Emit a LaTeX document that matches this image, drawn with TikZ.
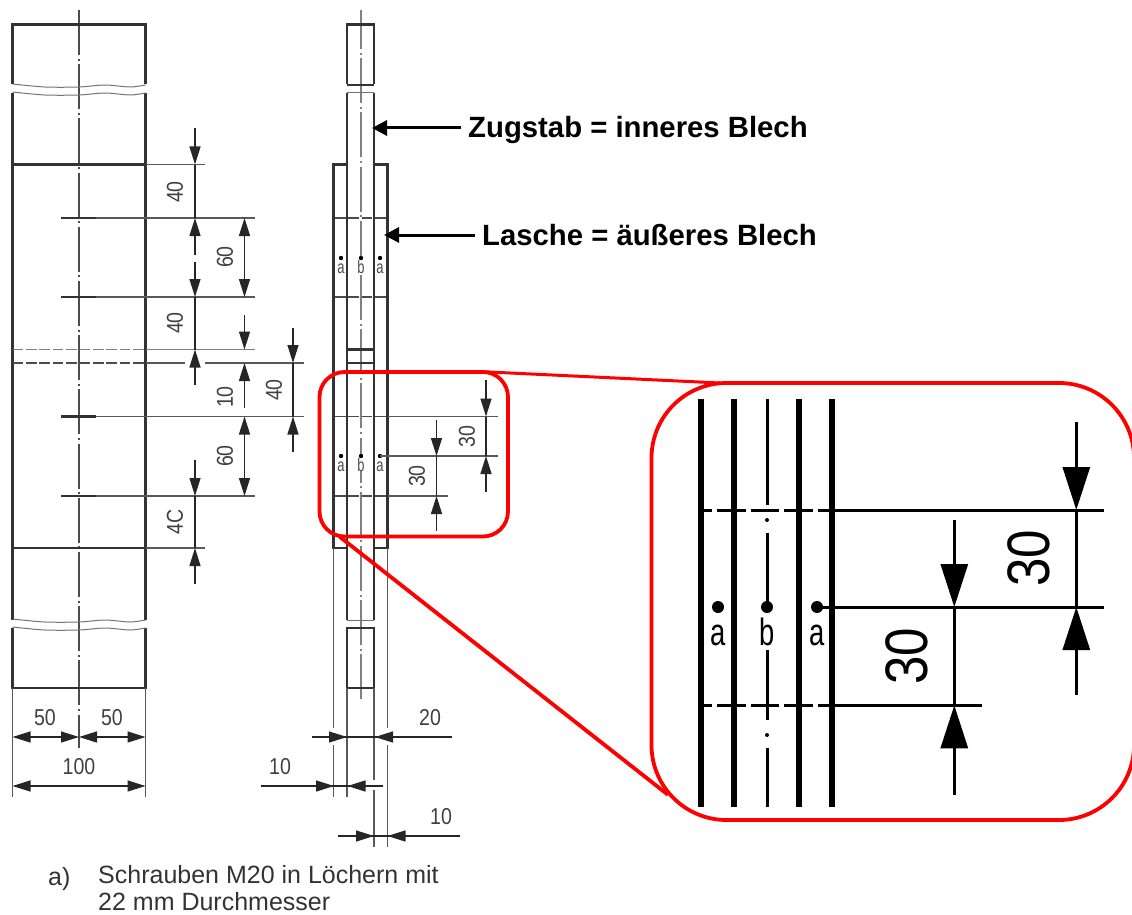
\documentclass[tikz,border=0pt]{standalone}
\usepackage{fontspec}
\setmainfont{Liberation Sans}
\newfontfamily\isofont[FakeStretch=0.85]{Liberation Sans}
\newfontfamily\isonarrow[FakeStretch=0.72]{Liberation Sans}
\usetikzlibrary{arrows.meta}
\tikzset{
  thickline/.style={line width=2.2pt, black!80},
  thinline/.style={line width=1.4pt, black!65},
  breakline/.style={line width=1pt, black!55},
  centerline/.style={line width=1.3pt, black!70, dash pattern=on 45pt off 3.6pt on 2pt off 3.6pt},
  dashline/.style={line width=1.5pt, black!70, dash pattern=on 10.6pt off 2.8pt},
  dimline/.style={line width=1.3pt, black!85},
  dimtip/.style={dimline, -{Triangle[length=18pt,width=11pt]}},
  dimboth/.style={dimline, {Triangle[length=18pt,width=11pt]}-{Triangle[length=18pt,width=11pt]}},
  dimlabel/.style={font=\isofont\fontsize{23}{23}\selectfont, black!75, inner sep=0pt},
  letterlabel/.style={font=\isonarrow\fontsize{18}{18}\selectfont, black!70, inner sep=0pt},
  biglabel/.style={font=\bfseries\fontsize{29.3}{29}\selectfont, inner xsep=7pt, inner ysep=0pt},
  pointer/.style={line width=3pt, -{Triangle[length=15pt,width=15pt]}},
  redframe/.style={draw=red, line width=3.8pt},
  zoomthick/.style={line width=6pt, black},
  zoomthin/.style={line width=3pt, black},
  zoomdim/.style={zoomthin, -{Triangle[length=43pt,width=27pt]}},
  zoomdigit/.style={font=\isofont\fontsize{60}{60}\selectfont, inner sep=0pt},
  zoomletter/.style={font=\isonarrow\fontsize{38}{38}\selectfont, inner sep=0pt}
}
\begin{document}
\begin{tikzpicture}[x=1pt,y=-1pt]
        \useasboundingbox (0,0) rectangle (1132,915);

        % Left view
        \draw[centerline] (79,10) -- (79,748);
        \draw[thickline] (12.5,84) -- (12.5,24.5) -- (145.5,24.5) -- (145.5,84);
        \draw[thickline] (12.5,93) -- (12.5,620);
        \draw[thickline] (145.5,93) -- (145.5,620);
        \draw[thickline] (12.5,628) -- (12.5,688) -- (145.5,688) -- (145.5,628);
        \draw[thickline] (12.5,164.5) -- (145.5,164.5);
        \draw[thickline] (12.5,548) -- (145.5,548);
        \foreach \ybreak in {85,93,620,628} {
            \draw[breakline] plot[smooth] coordinates {(12.5,\ybreak-1) (45,\ybreak+2) (79,\ybreak+2) (105,\ybreak) (130,\ybreak+2) (145.5,\ybreak)};
        }
        \foreach \yhole/\xend in {218/255, 297/255, 416.5/304, 496/255} {
            \draw[thickline] (61,\yhole) -- (96,\yhole);
            \draw[thinline] (96,\yhole) -- (\xend,\yhole);
        }
        \draw[thinline] (145.5,164.5) -- (205,164.5);
        \draw[thinline] (145.5,548) -- (205,548);
        \draw[dashline, black!50] (12.5,349.5) -- (145.5,349.5);
        \draw[dashline] (12.5,363) -- (145.5,363);
        \draw[thinline, black!50] (145.5,349.5) -- (255,349.5);
        \draw[thinline] (145.5,363) -- (185,363);
        \draw[thinline] (205,363) -- (304,363);
        \draw[thinline] (12.5,688) -- (12.5,797);
        \draw[thinline] (145.5,688) -- (145.5,797);

        % Dimensions of the left view, vertical
        \draw[dimtip] (195,128) -- (195,164.5);
        \draw[dimline] (195,164.5) -- (195,218);
        \draw[dimtip] (195,255) -- (195,218);
        \draw[dimtip] (195,262) -- (195,297);
        \draw[dimline] (195,297) -- (195,349.5);
        \draw[dimtip] (195,385) -- (195,349.5);
        \draw[dimtip] (244.5,315) -- (244.5,349.5);
        \draw[dimtip] (244.5,408) -- (244.5,363);
        \draw[dimtip] (195,460) -- (195,496);
        \draw[dimline] (195,496) -- (195,548);
        \draw[dimtip] (195,584) -- (195,548);
        \draw[dimtip] (293,328) -- (293,363);
        \draw[dimline] (293,363) -- (293,416.5);
        \draw[dimtip] (293,452) -- (293,416.5);
        \foreach \ya/\yb in {218/297, 416.5/496} {
            \draw[dimboth] (244.5,\ya) -- (244.5,\yb);
        }
        \node[dimlabel, rotate=90] (leftforty) at (175,192) {40};
        \node[dimlabel, rotate=90] (leftsixty) at (225,257) {60};
        \node[dimlabel, rotate=90] (leftfortyb) at (175,323) {40};
        \node[dimlabel, rotate=90] (leftten) at (225,397) {10};
        \node[dimlabel, rotate=90] (leftfortyc) at (274,390) {40};
        \node[dimlabel, rotate=90] (leftsixtyb) at (225,456) {60};
        \node[dimlabel, rotate=90] (leftfortyd) at (175,522) {4C};

        % Dimensions of the left view, horizontal
        \draw[dimboth] (12.5,737) -- (79,737);
        \draw[dimboth] (79,737) -- (145.5,737);
        \draw[dimboth] (12.5,786) -- (145.5,786);
        \node[dimlabel] (leftfifty) at (45,718) {50};
        \node[dimlabel] (leftfiftyb) at (112,718) {50};
        \node[dimlabel] (lefthundred) at (79,767) {100};

        % Right view
        \draw[centerline, black!50, line width=2pt, dash phase=6pt] (361,10) -- (361,703);
        \draw[thickline] (347,84) -- (347,24.5) -- (374,24.5) -- (374,84);
        \draw[thickline] (347,85) -- (374,85);
        \draw[thickline] (347,93) -- (347,620);
        \draw[thickline] (374,93) -- (374,620);
        \draw[breakline] (347,93) -- (374,93);
        \draw[breakline] (347,620) -- (374,620);
        \draw[thickline] (347,628) -- (374,628) -- (374,688) -- (347,688) -- cycle;
        \draw[thickline] (347,164.5) -- (333.5,164.5) -- (333.5,548) -- (347,548);
        \draw[thickline] (374,164.5) -- (387.5,164.5) -- (387.5,548) -- (374,548);
        \draw[thickline] (347,349.5) -- (374,349.5);
        \draw[thickline] (347,363) -- (374,363);
        \foreach \yhole in {218,297,416.5,496} {
            \draw[dashline] (335,\yhole) -- (387.5,\yhole);
        }
        \draw[thinline] (333.5,548) -- (333.5,728);
        \draw[thinline] (333.5,745) -- (333.5,797);
        \draw[thinline] (347,688) -- (347,797);
        \draw[thinline] (374,688) -- (374,780);
        \draw[thinline] (374,790) -- (374,847);
        \draw[thinline] (387.5,548) -- (387.5,728);
        \draw[thinline] (387.5,745) -- (387.5,847);

        % Bolts in the right view
        \foreach \ybolt in {258,456} {
            \foreach \xbolt/\boltname in {341/a, 361/b, 380/a} {
                \node[letterlabel, fill=white, anchor=base] at (\xbolt,\ybolt+15) {\boltname};
                \fill (\xbolt,\ybolt) circle (2.2);
            }
        }
        \draw[thinline] (380,456) -- (498,456);
        \draw[thinline] (387.5,416.5) -- (498,416.5);
        \draw[thinline] (387.5,496) -- (448,496);
        \draw[dimtip] (486,380) -- (486,416.5);
        \draw[dimline] (486,416.5) -- (486,456);
        \draw[dimtip] (486,492) -- (486,456);
        \draw[dimtip] (436.5,420) -- (436.5,456);
        \draw[dimline] (436.5,456) -- (436.5,496);
        \draw[dimtip] (436.5,531) -- (436.5,496);
        \node[dimlabel, rotate=90] (smallthirty) at (467,436.5) {30};
        \node[dimlabel, rotate=90] (smallthirtyb) at (417,476) {30};

        % Dimensions of the right view, horizontal
        \draw[dimline] (312,737) -- (452,737);
        \draw[dimtip] (312,737) -- (347,737);
        \draw[dimtip] (452,737) -- (375,737);
        \draw[dimline] (261,786) -- (383,786);
        \draw[dimtip] (261,786) -- (334,786);
        \draw[dimtip] (383,786) -- (347.5,786);
        \draw[dimline] (338,836) -- (460,836);
        \draw[dimtip] (338,836) -- (374,836);
        \draw[dimtip] (460,836) -- (387.5,836);
        \node[dimlabel] (righttwenty) at (430,718) {20};
        \node[dimlabel] (rightten) at (280,767) {10};
        \node[dimlabel] (righttenb) at (441,817) {10};

        % Labels with pointers
        \node[biglabel, anchor=west] (zugstab) at (461,130) {Zugstab = inneres Blech};
        \node[biglabel, anchor=west] (lasche) at (475,235) {Lasche = äußeres Blech};
        \coordinate (zugstabtip) at (372,128);
        \coordinate (laschetip) at (384,235);
        \draw[pointer] (zugstab.west |- zugstabtip) -- (zugstabtip);
        \draw[pointer] (lasche.west |- laschetip) -- (laschetip);

        % Caption
        \node[anchor=north west, inner sep=0pt, black!80, align=left, font=\fontsize{25}{27}\selectfont] (caption) at (98,865) {Schrauben M20 in Löchern mit\\22 mm Durchmesser};
        \node[anchor=base west, inner sep=0pt, black!80, font=\fontsize{25}{27}\selectfont] (captiontag) at (48,885) {a)};

        % Red frames
        \draw[redframe, line width=3pt] (483,371.7) -- (720,383);
        \draw[redframe] (340,537) -- (668,794.8);
        \draw[redframe, rounded corners=25pt] (319.5,372) rectangle (508,536.5);
        \draw[redframe, rounded corners=75pt] (651.5,383) rectangle (1134,820);

        % Enlarged detail
        \foreach \xline in {701,734,799,832} {
            \draw[zoomthick] (\xline,399) -- (\xline,807);
        }
        \draw[zoomthin] (767,399) -- (767,505);
        \draw[zoomthin] (767,533) -- (767,607);
        \draw[zoomthin] (767,650) -- (767,720);
        \draw[zoomthin] (767,748) -- (767,807);
        \fill (767,520) circle (2);
        \fill (767,735) circle (2);
        \foreach \ydash/\xend in {510/1104, 705.3/982} {
            \draw[zoomthin, dash pattern=on 28.5pt off 5pt, dash phase=17.5pt] (701,\ydash) -- (832,\ydash);
            \draw[zoomthin] (832,\ydash) -- (\xend,\ydash);
        }
        \draw[zoomthin] (815.7,607) -- (1104,607);
        \foreach \xbolt/\boltname in {718/a, 767/b, 817/a} {
            \fill (\xbolt,607) circle (6);
            \node[zoomletter, anchor=base] at (\xbolt,645) {\boltname};
        }
        \draw[zoomdim] (1076.3,421.7) -- (1076.3,510);
        \draw[zoomthin] (1076.3,510) -- (1076.3,607);
        \draw[zoomdim] (1076.3,695) -- (1076.3,607);
        \draw[zoomdim] (954.3,520) -- (954.3,607);
        \draw[zoomthin] (954.3,607) -- (954.3,705.3);
        \draw[zoomdim] (954.3,795) -- (954.3,705.3);
        \node[zoomdigit, rotate=90] (zoomthirty) at (1029,558) {30};
        \node[zoomdigit, rotate=90] (zoomthirtyb) at (906.7,656) {30};
    \end{tikzpicture}
\end{document}
